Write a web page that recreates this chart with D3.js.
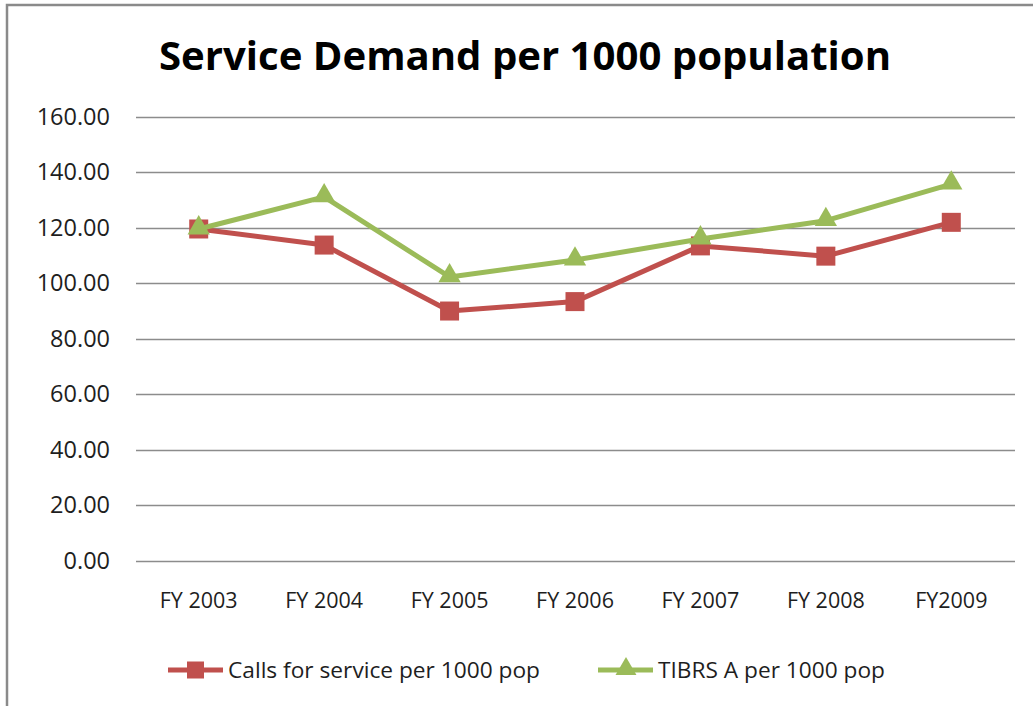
<!DOCTYPE html>
<html>
<head>
<meta charset="utf-8">
<script src="https://cdn.jsdelivr.net/npm/d3@7"></script>
<style>
  body { margin: 0; background: #fff; }
  svg { display: block; font-family: "Open Sans", sans-serif; }
</style>
</head>
<body>
<div id="chart"></div>
<script>
var years = ["FY 2003", "FY 2004", "FY 2005", "FY 2006", "FY 2007", "FY 2008", "FY2009"]
var callsPer1000 = [119.6, 113.8, 90.0, 93.4, 113.5, 109.8, 122.0]
var tibrsPer1000 = [119.6, 131.2, 102.3, 108.4, 116.0, 122.6, 135.8]
var yTicks = [0, 20, 40, 60, 80, 100, 120, 140, 160]
var seriesNames = ["Calls for service per 1000 pop", "TIBRS A per 1000 pop"]

var width = 1033,
    height = 706

var svg = d3.select("#chart")
    .append("svg")
    .attr("width", width)
    .attr("height", height)

// outer chart frame (only top and left edges are visible)
svg.append("path")
    .attr("d", "M7,706 V5 H1033")
    .attr("fill", "none")
    .attr("stroke", "#8a8a8a")
    .attr("stroke-width", 2.5)

svg.append("text")
    .attr("x", 159)
    .attr("y", 70)
    .attr("textLength", 732)
    .attr("lengthAdjust", "spacingAndGlyphs")
    .style("font-size", "40px")
    .style("font-weight", "bold")
    .attr("fill", "#000")
    .text("Service Demand per 1000 population")

var x = d3.scaleBand()
    .domain(years)
    .range([136, 1014])

var y = d3.scaleLinear()
    .domain([0, 160])
    .range([560.5, 117])

// grid lines
svg.append("g")
    .selectAll("line")
    .data(yTicks)
    .enter()
    .append("line")
    .attr("x1", 136)
    .attr("x2", 1015)
    .attr("y1", d => Math.round(y(d)) + 0.5)
    .attr("y2", d => Math.round(y(d)) + 0.5)
    .attr("stroke", "#8c8c8c")
    .attr("stroke-width", 1.3)

var yAxis = svg.append("g")
    .attr("transform", "translate(110,0)")
    .call(d3.axisLeft(y).tickValues(yTicks).tickFormat(d3.format(".2f")).tickSize(0).tickPadding(0))
yAxis.select(".domain").remove()
yAxis.selectAll("text")
    .style("font-size", "23.5px")
    .style("font-family", "'Open Sans', sans-serif")
    .attr("fill", "#1e1e1e")

var xAxis = svg.append("g")
    .attr("transform", "translate(0,560)")
    .call(d3.axisBottom(x).tickSize(0).tickPadding(0))
xAxis.select(".domain").remove()
xAxis.selectAll("text")
    .attr("y", 48)
    .attr("dy", 0)
    .style("font-size", "21.5px")
    .style("font-family", "'Open Sans', sans-serif")
    .attr("fill", "#1e1e1e")

var cx = d => x(d) + x.bandwidth() / 2

var line = d3.line()
    .x((d, i) => cx(years[i]))
    .y(d => y(d))

var red = "#C0504D",
    green = "#9BBB59"

svg.append("path")
    .datum(callsPer1000)
    .attr("d", line)
    .attr("fill", "none")
    .attr("stroke", red)
    .attr("stroke-width", 5)
    .attr("stroke-linejoin", "round")

svg.selectAll("rect.calls")
    .data(callsPer1000)
    .enter()
    .append("rect")
    .attr("class", "calls")
    .attr("x", (d, i) => cx(years[i]) - 9.5)
    .attr("y", d => y(d) - 9.5)
    .attr("width", 19)
    .attr("height", 19)
    .attr("fill", red)

svg.append("path")
    .datum(tibrsPer1000)
    .attr("d", line)
    .attr("fill", "none")
    .attr("stroke", green)
    .attr("stroke-width", 5)
    .attr("stroke-linejoin", "round")

var tri = d3.symbol().type(d3.symbolTriangle).size(215)

svg.selectAll("path.tibrs")
    .data(tibrsPer1000)
    .enter()
    .append("path")
    .attr("class", "tibrs")
    .attr("d", tri)
    .attr("transform", (d, i) => "translate(" + cx(years[i]) + "," + (y(d) - 1) + ")")
    .attr("fill", green)

// legend
var legend = svg.append("g")
var legendItems = [
    { name: seriesNames[0], color: red, x0: 168, tw: 312 },
    { name: seriesNames[1], color: green, x0: 598, tw: 227 }
]
legendItems.forEach(function (item, i) {
    var g = legend.append("g").attr("transform", "translate(" + item.x0 + ",670)")
    g.append("line")
        .attr("x1", 0).attr("x2", 55)
        .attr("stroke", item.color)
        .attr("stroke-width", 5)
    if (i == 0) {
        g.append("rect")
            .attr("x", 19).attr("y", -8.5)
            .attr("width", 17).attr("height", 17)
            .attr("fill", item.color)
    } else {
        g.append("path")
            .attr("d", d3.symbol().type(d3.symbolTriangle).size(190))
            .attr("transform", "translate(28,-1)")
            .attr("fill", item.color)
    }
    g.append("text")
        .attr("x", 60)
        .attr("y", 8)
        .attr("textLength", item.tw)
        .attr("lengthAdjust", "spacingAndGlyphs")
        .style("font-size", "22.5px")
        .attr("fill", "#1e1e1e")
        .text(item.name)
})
</script>
</body>
</html>
